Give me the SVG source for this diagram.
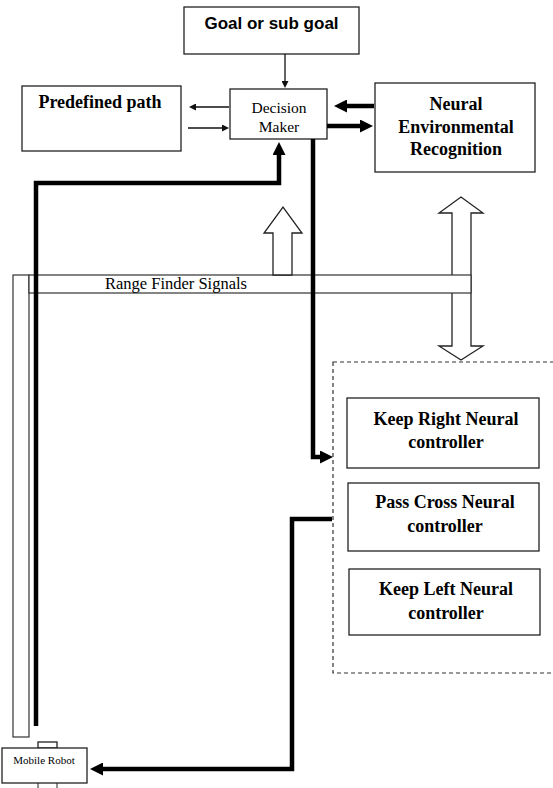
<svg xmlns="http://www.w3.org/2000/svg" width="553" height="788" viewBox="0 0 553 788">
<style>
.box{fill:#fff;stroke:#222;stroke-width:1.3}
.band{fill:#fff;stroke:#333;stroke-width:1.2}
.hollow{fill:#fff;stroke:#222;stroke-width:1.3}
.thin{fill:none;stroke:#111;stroke-width:1.3}
.thick{fill:none;stroke:#000;stroke-width:4.5}
.dash{fill:none;stroke:#333;stroke-width:1.2;stroke-dasharray:4 3}
.sansb{font-family:"Liberation Sans",Arial,sans-serif;font-weight:bold;fill:#000}
.serifb{font-family:"Liberation Serif","Times New Roman",serif;font-weight:bold;fill:#000}
.serif{font-family:"Liberation Serif","Times New Roman",serif;fill:#000}
</style>
<defs>
<marker id="ah" viewBox="0 0 8 8" refX="0" refY="4" markerWidth="8" markerHeight="7" markerUnits="userSpaceOnUse" orient="auto"><path d="M0,0L8,4L0,8z" fill="#111"/></marker>
<marker id="ahk" viewBox="0 0 14 14" refX="0" refY="7" markerWidth="14" markerHeight="13" markerUnits="userSpaceOnUse" orient="auto"><path d="M0,0L14,7L0,14z" fill="#000"/></marker>
</defs>
<rect width="553" height="788" fill="#fff"/>

<g id="sensor-bar">
<rect class="band" x="13" y="275" width="16" height="462"/>
</g>
<g id="env-double-arrow">
<polygon class="hollow" points="452,213 439,213 461,197 483,213 471,213 471,346 483,346 461,360 439,346 452,346"/>
</g>
<g id="range-finder">
<rect class="band" x="29" y="275" width="442" height="18"/>
<text class="serif" x="176" y="289" font-size="16.5" text-anchor="middle">Range Finder Signals</text>
</g>
<g id="signal-up-arrow">
<polygon class="hollow" points="273,275 273,233 264,233 283,207 302,233 292,233 292,275"/>
</g>

<g id="goal">
<rect class="box" x="184" y="7" width="175" height="47"/>
<text class="sansb" x="271.5" y="29" font-size="17" text-anchor="middle">Goal or sub goal</text>
</g>
<g id="decision-maker">
<rect class="box" x="230" y="89" width="97" height="50"/>
<text class="serif" x="279" y="113" font-size="15.5" text-anchor="middle">Decision</text>
<text class="serif" x="279" y="132" font-size="15.5" text-anchor="middle">Maker</text>
</g>
<g id="predefined-path">
<rect class="box" x="22" y="86" width="159" height="65"/>
<text class="serifb" x="100" y="108" font-size="18" text-anchor="middle">Predefined path</text>
</g>
<g id="neural-env">
<rect class="box" x="375" y="83" width="160" height="89"/>
<text class="serifb" x="456" y="110" font-size="18" text-anchor="middle">Neural</text>
<text class="serifb" x="456" y="133" font-size="18" text-anchor="middle">Environmental</text>
<text class="serifb" x="456" y="155" font-size="18" text-anchor="middle">Recognition</text>
</g>
<g id="controllers">
<rect class="dash" x="333" y="362" width="230" height="311"/>
</g>
<g id="keep-right">
<rect class="box" x="347" y="398" width="192" height="70"/>
<text class="serifb" x="446" y="425" font-size="18" text-anchor="middle">Keep Right Neural</text>
<text class="serifb" x="446" y="448" font-size="18" text-anchor="middle">controller</text>
</g>
<g id="pass-cross">
<rect class="box" x="348" y="483" width="191" height="68"/>
<text class="serifb" x="445" y="508" font-size="18" text-anchor="middle">Pass Cross Neural</text>
<text class="serifb" x="445" y="532" font-size="18" text-anchor="middle">controller</text>
</g>
<g id="keep-left">
<rect class="box" x="349" y="569" width="191" height="66"/>
<text class="serifb" x="446" y="595" font-size="18" text-anchor="middle">Keep Left Neural</text>
<text class="serifb" x="446" y="619" font-size="18" text-anchor="middle">controller</text>
</g>
<g id="mobile-robot">
<rect class="box" x="38" y="742" width="19" height="6" stroke-width="1"/>
<rect class="box" x="2" y="748" width="85" height="35" stroke-width="1"/>
<line x1="38" y1="783" x2="38" y2="788" stroke="#222" stroke-width="1"/>
<line x1="57" y1="783" x2="57" y2="788" stroke="#222" stroke-width="1"/>
<text class="serif" x="44" y="764" font-size="11" text-anchor="middle">Mobile Robot</text>
</g>

<g id="connectors">
<path class="thin" d="M285,54V81" marker-end="url(#ah)"/>
<path class="thin" d="M229,107H196" marker-end="url(#ah)"/>
<path class="thin" d="M188,128H222" marker-end="url(#ah)"/>
<path class="thick" d="M374,106H347" marker-end="url(#ahk)"/>
<path class="thick" d="M327,126H360" marker-end="url(#ahk)"/>
<path class="thick" d="M36,726V183H279V155" marker-end="url(#ahk)"/>
<path class="thick" d="M313,139V457H320" marker-end="url(#ahk)"/>
<path class="thick" d="M332,519H292V769H103" marker-end="url(#ahk)"/>
</g>
</svg>
